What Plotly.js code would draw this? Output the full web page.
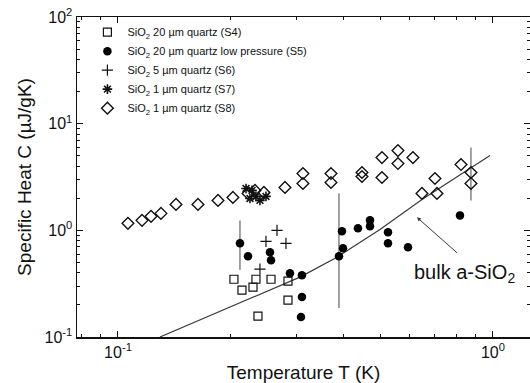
<!DOCTYPE html>
<html>
<head>
<meta charset="utf-8">
<script src="https://cdn.plot.ly/plotly-3.0.1.min.js"></script>
<style>html,body{margin:0;padding:0;background:#fff;}#chart{width:530px;height:383px;}</style>
</head>
<body>
<div id="chart"></div>
<script>
// ---- data (temperature in K, specific heat in uJ/gK) ----
const seriesNames = [
  "SiO<sub>2</sub> 20 µm quartz (S4)",
  "SiO<sub>2</sub> 20 µm quartz low pressure (S5)",
  "SiO<sub>2</sub> 5 µm quartz (S6)",
  "SiO<sub>2</sub> 1 µm quartz (S7)",
  "SiO<sub>2</sub> 1 µm quartz (S8)"
];

const T_S4 = [0.2038, 0.2141, 0.2291, 0.2333, 0.2559, 0.2840, 0.2840, 0.2362];
const C_S4 = [0.348, 0.275, 0.293, 0.348, 0.348, 0.334, 0.222, 0.157];

const T_S5 = [0.2115, 0.2222, 0.2543, 0.2559, 0.2875, 0.3094, 0.3094, 0.3076, 0.3956, 0.3981, 0.3884, 0.4365, 0.4699, 0.4699, 0.5248, 0.5248, 0.5934, 0.8166];
const C_S5 = [0.756, 0.572, 0.623, 0.524, 0.396, 0.380, 0.237, 0.154, 0.979, 0.679, 0.572, 1.044, 1.240, 1.090, 0.958, 0.756, 0.694, 1.381];
const errUp_S5 = [0.48, 0, 0, 0, 0, 0, 0, 0, 0, 0, 1.65, 0, 0, 0, 0, 0, 0, 0];
const errDn_S5 = [0.33, 0, 0, 0, 0, 0, 0, 0, 0, 0, 0.385, 0, 0, 0, 0, 0, 0, 0];

const T_S6 = [0.2655, 0.2481, 0.2805, 0.2391];
const C_S6 = [1.00, 0.789, 0.756, 0.432];

const T_S7 = [0.2195, 0.2277, 0.2333, 0.2391, 0.2249, 0.2481];
const C_S7 = [2.47, 2.37, 2.08, 1.91, 1.99, 2.08];

const T_S8 = [0.1063, 0.1159, 0.1225, 0.1302, 0.1428, 0.1634, 0.1848, 0.2025, 0.2222, 0.2319, 0.2450, 0.2788, 0.3113, 0.3113, 0.3698, 0.3698, 0.4473, 0.4473, 0.5058, 0.5058, 0.5579, 0.5579, 0.6117, 0.7002, 0.6466, 0.7089, 0.8216, 0.8735, 0.8735];
const C_S8 = [1.163, 1.240, 1.352, 1.442, 1.750, 1.750, 1.907, 2.034, 2.217, 2.365, 2.265, 2.523, 3.409, 2.750, 3.409, 2.810, 3.484, 3.196, 4.811, 3.128, 5.594, 4.229, 4.811, 3.062, 2.217, 2.217, 4.139, 3.484, 2.750];
const errUp_S8 = [0,0,0,0,0,0,0,0,0,0,0,0,0,0,0,0,0,0,0,0,0,0,0,0,0,0,0,2.49,0];
const errDn_S8 = [0,0,0,0,0,0,0,0,0,0,0,0,0,0,0,0,0,0,0,0,0,0,0,0,0,0,0,1.58,0];

const T_bulk = [0.1294, 0.2249, 0.3057, 0.3837, 0.4996, 0.6466, 0.8166, 0.9817];
const C_bulk = [0.100, 0.227, 0.364, 0.560, 1.02, 1.95, 3.34, 5.02];

const xTickVals = [0.1, 1];
const xTickText = ["10<sup>-1</sup>", "10<sup>0</sup>"];
const xMinorVals = [0.08, 0.09, 0.2, 0.3, 0.4, 0.5, 0.6, 0.7, 0.8, 0.9];
const yTickVals = [0.1, 1, 10, 100];
const yTickText = ["10<sup>-1</sup>", "10<sup>0</sup>", "10<sup>1</sup>", "10<sup>2</sup>"];
const yMinorVals = [];
[0.1, 1, 10].forEach(d => { for (let k = 2; k <= 9; k++) yMinorVals.push(+(d * k).toPrecision(3)); });

const FONT = "Liberation Sans, Arial, Helvetica, sans-serif";
const INK = "#111";

const traces = [
  { x: T_bulk, y: C_bulk, type: "scatter", mode: "lines", showlegend: false,
    line: { color: "#3a3a3a", width: 1.2 }, hoverinfo: "skip" },
  { x: T_S8, y: C_S8, type: "scatter", mode: "markers", name: seriesNames[4], legendrank: 5,
    marker: { symbol: "diamond-open", size: 9, color: INK, line: { width: 1.4, color: INK } },
    error_y: { type: "data", symmetric: false, array: errUp_S8, arrayminus: errDn_S8, width: 0, thickness: 1, color: "#444" } },
  { x: T_S4, y: C_S4, type: "scatter", mode: "markers", name: seriesNames[0], legendrank: 1,
    marker: { symbol: "square-open", size: 8, color: INK, line: { width: 1.2, color: INK } } },
  { x: T_S6, y: C_S6, type: "scatter", mode: "markers", name: seriesNames[2], legendrank: 3,
    marker: { symbol: "cross-thin-open", size: 8, color: INK, line: { width: 1.2, color: INK } } },
  { x: T_S7, y: C_S7, type: "scatter", mode: "markers", name: seriesNames[3], legendrank: 4,
    marker: { symbol: "asterisk-open", size: 8, color: INK, line: { width: 1.6, color: INK } } },
  { x: T_S5, y: C_S5, type: "scatter", mode: "markers", name: seriesNames[1], legendrank: 2,
    marker: { symbol: "circle", size: 8.5, color: "#000" },
    error_y: { type: "data", symmetric: false, array: errUp_S5, arrayminus: errDn_S5, width: 0, thickness: 1, color: "#444" } }
];

const axisCommon = {
  type: "log", showgrid: false, zeroline: false,
  showline: true, linecolor: INK, linewidth: 1.5, mirror: "ticks",
  ticks: "inside", ticklen: 6, tickwidth: 1, tickcolor: INK,
  tickmode: "array", tickfont: { family: FONT, size: 16, color: INK }
};

const layout = {
  width: 530, height: 383,
  margin: { l: 77, r: 0, t: 17, b: 46 },
  paper_bgcolor: "#fff", plot_bgcolor: "#fff",
  font: { family: FONT, color: INK },
  showlegend: true,
  legend: { x: 0.023, y: 0.998, xanchor: "left", yanchor: "top", bgcolor: "rgba(0,0,0,0)",
            font: { family: FONT, size: 11, color: INK }, tracegroupgap: 0, itemwidth: 30 },
  xaxis: Object.assign({}, axisCommon, {
    range: [-1.1093, 0.0987], tickvals: xTickVals, ticktext: xTickText,
    minor: { tickvals: xMinorVals, ticks: "inside", ticklen: 3, tickcolor: INK, tickwidth: 1 },
    title: { text: "Temperature T (K)", font: { family: FONT, size: 19, color: INK }, standoff: 6 }
  }),
  yaxis: Object.assign({}, axisCommon, {
    range: [-1, 2], tickvals: yTickVals, ticktext: yTickText,
    minor: { tickvals: yMinorVals, ticks: "inside", ticklen: 3, tickcolor: INK, tickwidth: 1 },
    title: { text: "Specific Heat C (µJ/gK)", font: { family: FONT, size: 19, color: INK }, standoff: 8 }
  }),
  annotations: [
    { x: Math.log10(0.627), y: Math.log10(1.323), xref: "x", yref: "y", text: " ",
      showarrow: true, arrowhead: 2, arrowsize: 0.8, arrowwidth: 1, arrowcolor: "#3a3a3a",
      ax: 43, ay: 38 },
    { x: Math.log10(0.837), y: Math.log10(0.395), xref: "x", yref: "y",
      text: "bulk a-SiO<sub>2</sub>", showarrow: false,
      font: { family: FONT, size: 20, color: INK } }
  ]
};

Plotly.newPlot("chart", traces, layout, { displayModeBar: false, staticPlot: true });
</script>
</body>
</html>
